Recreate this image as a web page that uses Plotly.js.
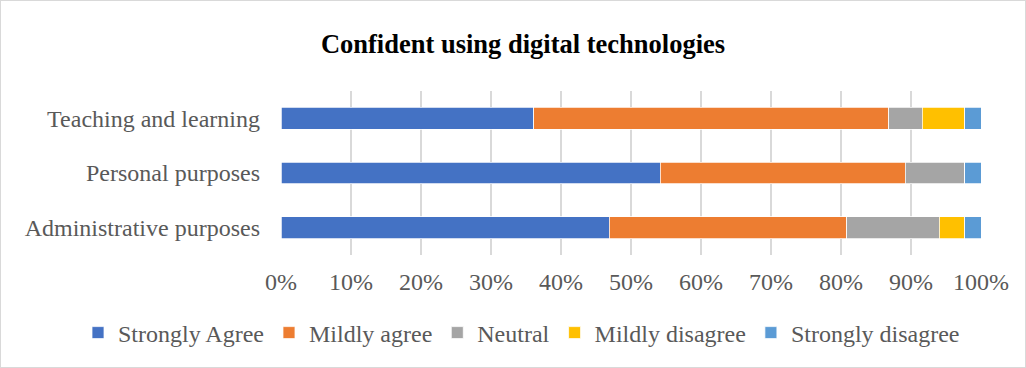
<!DOCTYPE html>
<html><head><meta charset="utf-8">
<script src="https://cdn.plot.ly/plotly-3.0.1.min.js"></script>
<style>
html,body{margin:0;padding:0;background:#fff;}
#chart{width:1024px;height:366px;border:1px solid #d9d9d9;}
</style></head>
<body><div id="chart"></div>
<script>
const categories = ["Teaching and learning", "Personal purposes", "Administrative purposes"];
const seriesNames = ["Strongly Agree", "Mildly agree", "Neutral", "Mildly disagree", "Strongly disagree"];
const stronglyAgree = [36.1, 54.2, 46.9];
const mildlyAgree = [50.7, 35.0, 33.9];
const neutral = [4.8, 8.5, 13.2];
const mildlyDisagree = [6.1, 0, 3.7];
const stronglyDisagree = [2.3, 2.3, 2.3];
const colors = ["#4472C4", "#ED7D31", "#A5A5A5", "#FFC000", "#5B9BD5"];
const xTicks = [0,10,20,30,40,50,60,70,80,90,100];

const seriesValues = [stronglyAgree, mildlyAgree, neutral, mildlyDisagree, stronglyDisagree];
const traces = seriesValues.map((vals, i) => ({
  type: 'bar', orientation: 'h', name: seriesNames[i],
  y: categories, x: vals.map(v => v),
  marker: {color: colors[i], line: {color: '#ffffff', width: 0.75}},
  hoverinfo: 'skip'
}));

const FAM = '"Liberation Serif", "Times New Roman", serif';
const mkFont = (size, color) => ({family: FAM, size: size, color: color});
const layout = {
  width: 1024, height: 366,
  margin: {l: 280, r: 44, t: 90, b: 112},
  paper_bgcolor: '#ffffff', plot_bgcolor: '#ffffff',
  barmode: 'stack', bargap: 0.6,
  font: mkFont(24, '#595959'),
  title: {text: '<b>Confident using digital technologies</b>', x: 522/1024, xref: 'container', xanchor: 'center',
    y: 1 - 43/366, yref: 'container', yanchor: 'middle',
    font: mkFont(26.5, '#000000')},
  xaxis: {range: [0, 100], tickvals: xTicks, ticktext: xTicks.map(t => t + '%'),
    showgrid: true, gridcolor: '#d9d9d9', gridwidth: 1.5, zeroline: false,
    showline: false, ticks: '', ticklen: 0, ticklabelstandoff: 10, tickfont: mkFont(24, '#595959'), fixedrange: true},
  yaxis: {autorange: 'reversed', showgrid: false, zeroline: false, showline: false,
    ticks: '', ticklabelstandoff: 20, tickfont: mkFont(24, '#595959'), fixedrange: true},
  showlegend: true,
  legend: {orientation: 'h', xref: 'paper', yref: 'paper', x: (77 - 280) / 700, xanchor: 'left',
    y: -(332 - 254) / 164, yanchor: 'middle', font: mkFont(24, '#595959'), traceorder: 'normal', itemwidth: 30,
    bgcolor: 'rgba(0,0,0,0)'}
};
Plotly.newPlot('chart', traces, layout, {displayModeBar: false, staticPlot: true});
</script></body></html>
